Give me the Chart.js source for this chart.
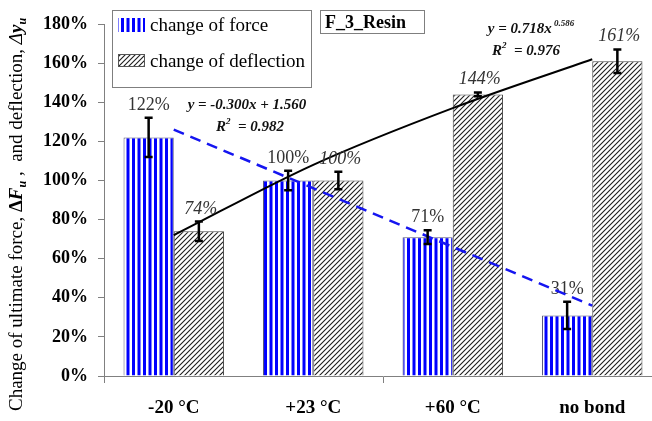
<!DOCTYPE html>
<html>
<head>
<meta charset="utf-8">
<script src="https://cdn.jsdelivr.net/npm/chart.js@4.4.1/dist/chart.umd.min.js"></script>
<style>
  html, body { margin: 0; padding: 0; background: #fff; overflow: hidden; width: 652px; height: 421px; }
  #wrap { position: relative; width: 670px; height: 421px; }
  canvas { display: block; }
</style>
</head>
<body>
<div id="wrap"><canvas id="c" width="670" height="421"></canvas></div>
<script>
// Test conditions
const categories = ['-20 °C', '+23 °C', '+60 °C', 'no bond'];

// Change of ultimate force (%) and its scatter
const forceChange = [122, 100, 71, 31];
const forceError = [10, 5, 3.5, 7];

// Change of deflection (%) and its scatter
const deflectionChange = [74, 100, 144, 161];
const deflectionError = [5, 4.5, 1, 6];

// Trend lines (%), read at the category centres
const forceTrend = [126, null, null, 36];
const deflectionTrend = [72, 108, 137, 162];

// Y axis range (%)
const yMin = 0, yMax = 180, yStep = 20;

const SERIF = '"Liberation Serif", "Times New Roman", serif';

const canvas = document.getElementById('c');
const ctx = canvas.getContext('2d');

// Fill patterns
function makeStripes() {
  const t = document.createElement('canvas');
  t.width = 11; t.height = 4;
  const g = t.getContext('2d');
  g.fillStyle = '#ffffff'; g.fillRect(0, 0, 11, 4);
  g.fillStyle = '#0000ff';
  g.fillRect(0, 0, 3, 4);
  g.fillRect(5.5, 0, 3, 4);
  return ctx.createPattern(t, 'repeat');
}
function makeHatch() {
  const s = 5;
  const t = document.createElement('canvas');
  t.width = s; t.height = s;
  const g = t.getContext('2d');
  g.fillStyle = '#ffffff'; g.fillRect(0, 0, s, s);
  g.strokeStyle = '#1e1e1e'; g.lineWidth = 1.1;
  g.beginPath();
  g.moveTo(0, s); g.lineTo(s, 0);
  g.moveTo(-1, 1); g.lineTo(1, -1);
  g.moveTo(s - 1, s + 1); g.lineTo(s + 1, s - 1);
  g.stroke();
  return ctx.createPattern(t, 'repeat');
}
const stripeFill = makeStripes();
const hatchFill = makeHatch();

const seriesInfo = [
  { vals: forceChange, errs: forceError, italic: false },
  { vals: deflectionChange, errs: deflectionError, italic: true }
];

// Value labels placed just above the error bar caps
function drawLabels(chart, idx) {
  const c = chart.ctx;
  const y = chart.scales.y;
  const s = seriesInfo[idx];
  c.save();
  chart.getDatasetMeta(idx).data.forEach((bar, i) => {
    const top = y.getPixelForValue(s.vals[i] + s.errs[i]);
    c.fillStyle = '#333';
    c.font = (s.italic ? 'italic ' : '') + '18px ' + SERIF;
    c.textAlign = 'center'; c.textBaseline = 'alphabetic';
    c.fillText(s.vals[i] + '%', bar.x + (s.italic ? 2 : 0), top - 8);
  });
  c.restore();
}

// Force labels go under the bars, deflection labels and error bars on top
const barExtras = {
  id: 'barExtras',
  beforeDatasetsDraw(chart) {
    drawLabels(chart, 0);
  },
  afterDatasetsDraw(chart) {
    drawLabels(chart, 1);
    const c = chart.ctx;
    const y = chart.scales.y;
    c.save();
    seriesInfo.forEach((s, idx) => {
      chart.getDatasetMeta(idx).data.forEach((bar, i) => {
        const top = y.getPixelForValue(s.vals[i] + s.errs[i]);
        const bot = y.getPixelForValue(s.vals[i] - s.errs[i]);
        c.strokeStyle = '#000'; c.lineWidth = 2.5;
        c.beginPath();
        c.moveTo(bar.x, top); c.lineTo(bar.x, bot);
        c.moveTo(bar.x - 4, top); c.lineTo(bar.x + 4, top);
        c.moveTo(bar.x - 4, bot); c.lineTo(bar.x + 4, bot);
        c.stroke();
      });
    });
    c.restore();
  }
};

// Draw a run of differently styled pieces along a baseline
function drawRuns(c, x, y, runs) {
  let cx = x;
  runs.forEach(r => {
    c.font = r.font;
    c.fillText(r.text, cx, y + (r.dy || 0));
    cx += c.measureText(r.text).width;
  });
  return cx - x;
}
function runsWidth(c, runs) {
  let w = 0;
  runs.forEach(r => { c.font = r.font; w += c.measureText(r.text).width; });
  return w;
}

// Legend, title box, trend equations and the y-axis title
const annotations = {
  id: 'annotations',
  afterDraw(chart) {
    const c = chart.ctx;
    c.save();
    c.textAlign = 'left'; c.textBaseline = 'alphabetic';

    // legend
    c.strokeStyle = '#7f7f7f'; c.lineWidth = 1;
    c.strokeRect(112.5, 10.5, 199, 77);
    c.fillStyle = stripeFill; c.fillRect(118, 18, 27, 14);
    c.fillStyle = hatchFill; c.fillRect(118, 54, 27, 13);
    c.strokeStyle = '#555'; c.strokeRect(118.5, 54.5, 26, 12);
    c.fillStyle = '#000';
    c.font = '19px ' + SERIF;
    c.fillText('change of force', 150, 31);
    c.fillText('change of deflection', 150, 67);

    // title box
    c.strokeStyle = '#7f7f7f';
    c.strokeRect(320.5, 10.5, 104, 23);
    c.font = 'bold 18px ' + SERIF;
    c.fillText('F_3_Resin', 325, 28);

    // trend equations
    const bi = 'bold italic 15px ' + SERIF;
    const biSup = 'bold italic 9px ' + SERIF;
    const eq = [
      { runs: [{ text: 'y = -0.300x + 1.560', font: bi }], cx: 247, y: 109 },
      { runs: [{ text: 'R', font: bi }, { text: '2', font: biSup, dy: -7 }, { text: '  = 0.982', font: bi }], cx: 250, y: 131 },
      { runs: [{ text: 'y = 0.718x', font: bi }, { text: ' 0.586', font: biSup, dy: -7 }], cx: 531, y: 33 },
      { runs: [{ text: 'R', font: bi }, { text: '2', font: biSup, dy: -7 }, { text: '  = 0.976', font: bi }], cx: 526, y: 55 }
    ];
    c.fillStyle = '#111';
    eq.forEach(e => {
      const w = runsWidth(c, e.runs);
      drawRuns(c, e.cx - w / 2, e.y, e.runs);
    });

    // y-axis title, rotated
    c.translate(22, 411);
    c.rotate(-Math.PI / 2);
    c.fillStyle = '#000';
    const reg = '19px ' + SERIF;
    const bI = 'bold italic 19px ' + SERIF;
    const sub = 'bold italic 12px ' + SERIF;
    drawRuns(c, 0, 0, [
      { text: 'Change of ultimate force, ', font: reg },
      { text: 'Δ', font: 'bold 19px ' + SERIF },
      { text: 'F', font: bI },
      { text: 'u', font: sub, dy: 4 },
      { text: ' ,  and deflection, ', font: reg },
      { text: 'Δ', font: 'italic 19px ' + SERIF },
      { text: 'y', font: bI },
      { text: 'u', font: sub, dy: 4 }
    ]);
    c.restore();
  }
};

new Chart(canvas, {
  type: 'bar',
  data: {
    labels: categories,
    datasets: [
      {
        label: 'change of force',
        data: forceChange,
        backgroundColor: stripeFill,
        borderColor: '#55557a',
        borderWidth: 1,
        order: 2
      },
      {
        label: 'change of deflection',
        data: deflectionChange,
        backgroundColor: hatchFill,
        borderColor: '#444',
        borderWidth: 1,
        order: 2
      },
      {
        type: 'line',
        label: 'force trend',
        data: forceTrend,
        spanGaps: true,
        borderColor: '#1515f0',
        borderWidth: 2.5,
        borderDash: [11, 7],
        pointRadius: 0,
        fill: false,
        order: 1
      },
      {
        type: 'line',
        label: 'deflection trend',
        data: deflectionTrend,
        cubicInterpolationMode: 'monotone',
        borderColor: '#000',
        borderWidth: 2,
        pointRadius: 0,
        fill: false,
        order: 1
      }
    ]
  },
  options: {
    responsive: false,
    animation: false,
    devicePixelRatio: 1,
    layout: { padding: { top: 24, right: 8, bottom: 0, left: 0 } },
    datasets: { bar: { categoryPercentage: 0.72, barPercentage: 1.0 } },
    plugins: { legend: { display: false }, tooltip: { enabled: false } },
    scales: {
      x: {
        grid: {
          offset: true,
          drawOnChartArea: false,
          tickLength: 7,
          color: (ctx) => (ctx.index % 2 === 0 ? '#808080' : 'rgba(0,0,0,0)')
        },
        border: { color: '#808080', width: 1 },
        ticks: {
          color: '#000',
          font: { family: SERIF, size: 19, weight: 'bold' },
          padding: 14
        },
        afterFit(scale) { scale.height = 45; }
      },
      y: {
        min: yMin,
        max: yMax,
        grid: { drawOnChartArea: false, tickLength: 6, color: '#808080' },
        border: { color: '#808080', width: 1 },
        ticks: {
          stepSize: yStep,
          color: '#000',
          padding: 10,
          font: { family: SERIF, size: 18, weight: 'bold' },
          callback: (v) => v + '%'
        },
        afterFit(scale) { scale.width = 104; }
      }
    }
  },
  plugins: [barExtras, annotations]
});
</script>
</body>
</html>
